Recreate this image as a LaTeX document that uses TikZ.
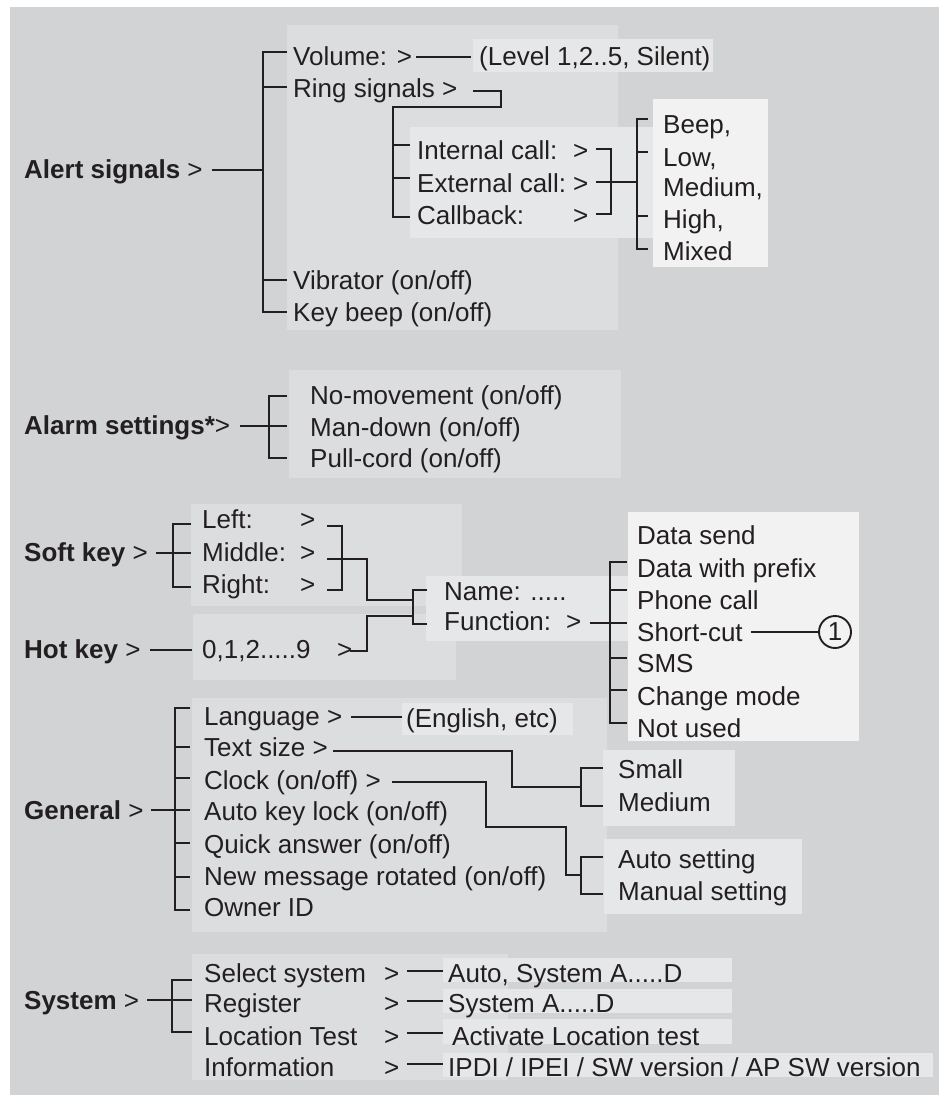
\documentclass[tikz,border=0pt]{standalone}
\usepackage{fontspec}
\setmainfont{Liberation Sans}
\definecolor{bg}{HTML}{D2D3D5}
\definecolor{pa}{HTML}{DCDDDF}
\definecolor{pb}{HTML}{E6E7E8}
\definecolor{pc}{HTML}{F2F2F2}
\definecolor{ink}{HTML}{231F20}
\begin{document}
\begin{tikzpicture}[x=1pt,y=-1pt,
  lbl/.style={anchor=west,inner sep=0pt,text height=18.6pt,text depth=0pt,font=\fontsize{26}{30}\selectfont,text=ink},
  ln/.style={line width=1.9pt,draw=ink,line cap=butt,line join=miter},
  ]
\useasboundingbox (0,0) rectangle (939,1095);
\fill[white] (0,0) rectangle (939,1095);
\fill[bg] (10,7) rectangle (939,1095);
% panels
\fill[pa] (287,25) rectangle (618,330);
\fill[pb] (473,39) rectangle (713,72);
\fill[pb] (410,127) rectangle (653,238);
\fill[pc] (653,99) rectangle (768,267);
\fill[pa] (289,370) rectangle (621,478);
\fill[pa] (191,504) rectangle (462,606);
\fill[pa] (193,614) rectangle (456,680);
\fill[pb] (426,576) rectangle (628,641);
\fill[pc] (628,512) rectangle (859,741);
\fill[pa] (192,698) rectangle (607,932);
\fill[pb] (402,703) rectangle (573,735);
\fill[pb] (603,750) rectangle (735,826);
\fill[pb] (604,839) rectangle (802,914);
\fill[pa] (192,954) rectangle (508,1080);
\fill[pb] (443,958) rectangle (732,982);
\fill[pb] (443,989) rectangle (732,1013);
\fill[pb] (443,1019) rectangle (732,1044);
\fill[pb] (443,1053) rectangle (933,1077);

% ---------- Alert signals
\node[lbl] (alert) at (24,169) {\bfseries Alert signals\mdseries{} >};
\node[lbl] (vol) at (293,56) {Volume: >};
\node[lbl] (lev) at (479,56) {(Level 1,2..5, Silent)};
\node[lbl] (ring) at (293,88) {Ring signals >};
\node[lbl] (vib) at (293,280) {Vibrator (on/off)};
\node[lbl] (kbeep) at (293,312) {Key beep (on/off)};
\node[lbl] (intc) at (417,150) {Internal call:};
\node[lbl] (extc) at (417,183) {External call:};
\node[lbl] (cbk) at (417,215) {Callback:};
\node[lbl] (gi) at (573,150) {>};
\node[lbl] (ge) at (573,183) {>};
\node[lbl] (gc) at (573,215) {>};
\node[lbl] (beep) at (663,124) {Beep,};
\node[lbl] (low) at (663,157) {Low,};
\node[lbl] (med) at (663,187) {Medium,};
\node[lbl] (high) at (663,219) {High,};
\node[lbl] (mix) at (663,251) {Mixed};

\coordinate (aS) at (212,170);
\draw[ln] (aS) -- (263,170);
\draw[ln] (287,52) -- (263,52) -- (263,312) -- (287,312);
\draw[ln] (263,87) -- (287,87);
\draw[ln] (263,280) -- (287,280);
\draw[ln] (416,57) -- (471,57);
\draw[ln] (473,91) -- (501,91) -- (501,107) -- (393,107) -- (393,217) -- (410,217);
\draw[ln] (393,145) -- (410,145);
\draw[ln] (393,178) -- (410,178);
\draw[ln] (596,149) -- (611,149) -- (611,214) -- (596,214);
\draw[ln] (596,182) -- (637,182);
\draw[ln] (648,119) -- (637,119) -- (637,249) -- (648,249);
\draw[ln] (637,152) -- (648,152);
\draw[ln] (637,216) -- (648,216);

% ---------- Alarm settings
\node[lbl] (alarm) at (24,425) {\bfseries Alarm settings*\mdseries>};
\node[lbl] (nomv) at (310,395) {No-movement (on/off)};
\node[lbl] (mand) at (310,427) {Man-down (on/off)};
\node[lbl] (pull) at (310,458) {Pull-cord (on/off)};
\draw[ln] (240,426) -- (287,426);
\draw[ln] (287,396) -- (269,396) -- (269,458) -- (287,458);

% ---------- Soft key / Hot key
\node[lbl] (soft) at (24,552) {\bfseries Soft key\mdseries{} >};
\node[lbl] (left) at (202,519) {Left:};
\node[lbl] (mid) at (202,552) {Middle:};
\node[lbl] (right) at (202,584) {Right:};
\node[lbl] (gl) at (300,519) {>};
\node[lbl] (gm) at (300,552) {>};
\node[lbl] (gr) at (300,584) {>};
\draw[ln] (156,553) -- (191,553);
\draw[ln] (191,524) -- (173,524) -- (173,587) -- (191,587);
\draw[ln] (327,526) -- (342,526) -- (342,590) -- (327,590);
\draw[ln] (327,559) -- (367,559) -- (367,600) -- (413,600);

\node[lbl] (hot) at (24,649) {\bfseries Hot key\mdseries{} >};
\node[lbl] (digits) at (202,649) {0,1,2.....9};
\node[lbl] (gh) at (337,649) {>};
\draw[ln] (150,650) -- (192,650);
\draw[ln] (350,651) -- (367,651) -- (367,616) -- (413,616);

\node[lbl] (name) at (444,591) {Name: .....};
\node[lbl] (func) at (444,621) {Function:};
\node[lbl] (gf) at (566,621) {>};
\draw[ln] (427,590) -- (413,590) -- (413,624) -- (427,624);
\draw[ln] (590,623) -- (627,623);
\draw[ln] (627,562) -- (610,562) -- (610,723) -- (627,723);
\draw[ln] (610,590) -- (627,590);
\draw[ln] (610,658) -- (627,658);
\draw[ln] (610,690) -- (627,690);

\node[lbl] (dsend) at (637,535) {Data send};
\node[lbl] (dpre) at (637,568) {Data with prefix};
\node[lbl] (phone) at (637,600) {Phone call};
\node[lbl] (short) at (637,632) {Short-cut};
\node[lbl] (sms) at (637,663) {SMS};
\node[lbl] (chg) at (637,696) {Change mode};
\node[lbl] (nused) at (637,728) {Not used};
\node[circle,draw=ink,line width=1.9pt,minimum size=32pt,inner sep=0pt,font=\fontsize{26}{30}\selectfont,text=ink] (one) at (835,632) {1};
\draw[ln] (751,632) -- (one.west);

% ---------- General
\node[lbl] (gen) at (24,810) {\bfseries General\mdseries{} >};
\node[lbl] (lang) at (204,716) {Language >};
\node[lbl] (tsize) at (204,747) {Text size >};
\node[lbl] (clock) at (204,780) {Clock (on/off) >};
\node[lbl] (akl) at (204,811) {Auto key lock (on/off)};
\node[lbl] (qa) at (204,844) {Quick answer (on/off)};
\node[lbl] (nmr) at (204,876) {New message rotated (on/off)};
\node[lbl] (oid) at (204,907) {Owner ID};
\node[lbl] (eng) at (406,718) {(English, etc)};
\node[lbl] (small) at (618,769) {Small};
\node[lbl] (medium) at (618,802) {Medium};
\node[lbl] (auto) at (618,859) {Auto setting};
\node[lbl] (manual) at (618,891) {Manual setting};
\draw[ln] (151,810) -- (190,810);
\draw[ln] (190,708) -- (175,708) -- (175,910) -- (190,910);
\draw[ln] (175,747) -- (190,747);
\draw[ln] (175,778) -- (190,778);
\draw[ln] (175,843) -- (190,843);
\draw[ln] (175,877) -- (190,877);
\draw[ln] (351,717) -- (402,717);
\draw[ln] (333,751) -- (512,751) -- (512,787) -- (581,787);
\draw[ln] (603,768) -- (581,768) -- (581,806) -- (603,806);
\draw[ln] (392,782) -- (486,782) -- (486,827) -- (566,827) -- (566,875) -- (581,875);
\draw[ln] (603,857) -- (581,857) -- (581,894) -- (603,894);

% ---------- System
\node[lbl] (sys) at (24,1000) {\bfseries System\mdseries{} >};
\node[lbl] (sel) at (204,973) {Select system};
\node[lbl] (reg) at (204,1003) {Register};
\node[lbl] (loc) at (204,1036) {Location Test};
\node[lbl] (info) at (204,1067) {Information};
\node[lbl] (gs1) at (384,973) {>};
\node[lbl] (gs2) at (384,1003) {>};
\node[lbl] (gs3) at (384,1036) {>};
\node[lbl] (gs4) at (384,1067) {>};
\node[lbl] (v1) at (448,973) {Auto, System A.....D};
\node[lbl] (v2) at (448,1003) {System A.....D};
\node[lbl] (v3) at (452,1036) {Activate Location test};
\node[lbl] (v4) at (448,1067) {IPDI / IPEI / SW version / AP SW version};
\draw[ln] (147,1000) -- (192,1000);
\draw[ln] (192,980) -- (172,980) -- (172,1032) -- (192,1032);
\draw[ln] (407,971) -- (443,971);
\draw[ln] (407,1001) -- (443,1001);
\draw[ln] (407,1033) -- (443,1033);
\draw[ln] (407,1064) -- (443,1064);
\end{tikzpicture}
\end{document}
